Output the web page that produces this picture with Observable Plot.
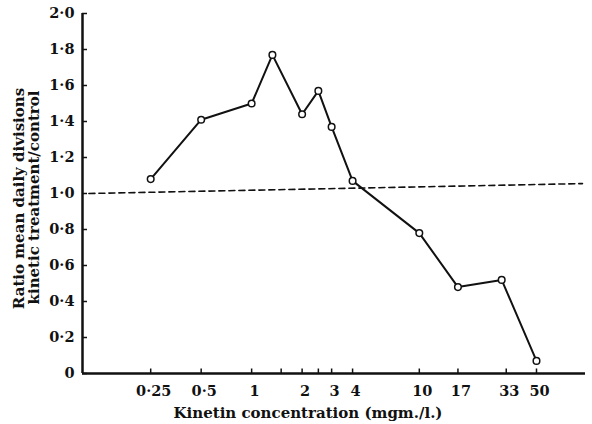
<!DOCTYPE html>
<html><head><meta charset="utf-8">
<script src="https://cdn.jsdelivr.net/npm/d3@7"></script>
<script src="https://cdn.jsdelivr.net/npm/@observablehq/plot@0.6"></script>
<style>body{margin:0;background:#fff}</style>
</head><body><div id="chart"></div>
<script>
const concentration = [0.25, 0.5, 1, 1.33, 2, 2.5, 3, 4, 10, 17, 31, 50];
const ratio = [1.08, 1.41, 1.50, 1.77, 1.44, 1.57, 1.37, 1.07, 0.78, 0.48, 0.52, 0.07];
const xTickValues = [0.25, 0.5, 1, 2, 3, 4, 10, 17, 33, 50];
const xTickLabels = ["0·25", "0·5", "1", "2", "3", "4", "10", "17", "33", "50"];
const xMinorTicks = [1.5, 2.5];
const yTickValues = [0, 0.2, 0.4, 0.6, 0.8, 1.0, 1.2, 1.4, 1.6, 1.8, 2.0];
const yTickLabels = ["0", "0·2", "0·4", "0·6", "0·8", "1·0", "1·2", "1·4", "1·6", "1·8", "2·0"];
const controlX = [0.107, 94];
const controlY = [1.0, 1.055];
const yLabelLines = ["Ratio mean daily divisions", "kinetic treatment/control"];
const xLabel = "Kinetin concentration (mgm./l.)";

const points = concentration.map((c, i) => ({c, r: ratio[i]}));
const control = controlX.map((c, i) => ({c, r: controlY[i]}));
const xDomain = [0.098, 98];
const allXTicks = xTickValues.concat(xMinorTicks);
const FS = 14.5;
const TS = 15;

const chart = Plot.plot({
  width: 592,
  height: 424,
  marginLeft: 82,
  marginRight: 7,
  marginTop: 13,
  marginBottom: 51,
  style: {fontFamily: "'DejaVu Serif', serif", fontSize: FS + "px", fontWeight: "bold", color: "#111", background: "#fff"},
  x: {type: "log", domain: xDomain, axis: null},
  y: {domain: [0, 2], axis: null},
  marks: [
    Plot.text(xTickValues, {x: d => d, text: (d, i) => xTickLabels[i], frameAnchor: "bottom", lineAnchor: "top", textAnchor: "middle", dx: 3, dy: 12, fontSize: FS, fill: "#111"}),
    Plot.text(yTickValues, {y: d => d, text: (d, i) => yTickLabels[i], frameAnchor: "left", textAnchor: "end", dx: -8, fontSize: FS, fill: "#111"}),
    Plot.text([xLabel], {text: d => d, frameAnchor: "bottom", lineAnchor: "top", textAnchor: "middle", dx: -26, dy: 34, fontSize: TS, fill: "#111"}),
    Plot.text([yLabelLines[0]], {text: d => d, frameAnchor: "left", textAnchor: "middle", rotate: -90, dx: -63, dy: 5, fontSize: TS, fill: "#111"}),
    Plot.text([yLabelLines[1]], {text: d => d, frameAnchor: "left", textAnchor: "middle", rotate: -90, dx: -48, dy: 4, fontSize: TS, fill: "#111"}),
    Plot.ruleX(allXTicks, {x: d => d, y1: 0, y2: 0.025, stroke: "#111", strokeWidth: 1.5}),
    Plot.ruleY(yTickValues, {y: d => d, x1: xDomain[0], x2: 0.105, stroke: "#111", strokeWidth: 1.5}),
    Plot.ruleY([0], {stroke: "#111", strokeWidth: 2.5}),
    Plot.ruleX([xDomain[0]], {stroke: "#111", strokeWidth: 2.5}),
    Plot.line(control, {x: "c", y: "r", stroke: "#111", strokeWidth: 1.6, strokeDasharray: "6,4"}),
    Plot.line(points, {x: "c", y: "r", stroke: "#111", strokeWidth: 2}),
    Plot.dot(points, {x: "c", y: "r", r: 3.3, fill: "#fff", stroke: "#111", strokeWidth: 1.5})
  ]
});
document.getElementById("chart").appendChild(chart);
</script>
</body></html>
